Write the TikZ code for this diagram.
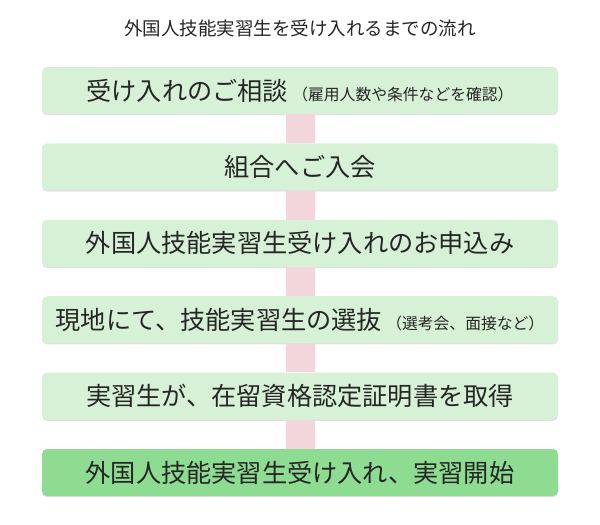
\documentclass[tikz,border=0pt]{standalone}
\usepackage{fontspec}
\newfontfamily\jpfont{Noto Sans CJK JP}
\usetikzlibrary{positioning,shadows}
\definecolor{boxgreen}{HTML}{D6F1D6}
\definecolor{lastgreen}{HTML}{8EDC92}
\definecolor{linkpink}{HTML}{F3D5DC}
\newcommand\aside[1]{{\fontsize{15.8}{18}\selectfont #1}}
\tikzset{
  stepbox/.style={fill=boxgreen, rounded corners=5pt, minimum width=516pt,
    minimum height=47pt, inner sep=0pt, text=black!85,
    font=\jpfont\fontsize{25.2}{28}\selectfont,
    drop shadow={shadow xshift=0pt, shadow yshift=-1.2pt, fill=black, opacity=0.12}},
  laststep/.style={stepbox, fill=lastgreen},
  link/.style={line width=29pt, linkpink},
  heading/.style={font=\jpfont\fontsize{18.5}{22}\selectfont, text=black!85}
}

\begin{document}
\begin{tikzpicture}[x=1pt, y=1pt, node distance=29pt]
\useasboundingbox (0,0) rectangle (600,-525);
\node[heading] (title) at (300,-28) {外国人技能実習生を受け入れるまでの流れ};
\node[stepbox] (s1) at (300,-90.5) {受け入れのご相談\,\aside{（雇用人数や条件などを確認）}};
\node[stepbox, below=of s1] (s2) {組合へご入会};
\node[stepbox, below=of s2] (s3) {外国人技能実習生受け入れのお申込み};
\node[stepbox, below=of s3] (s4) {現地にて、技能実習生の選抜\,\aside{（選考会、面接など）}};
\node[stepbox, below=of s4] (s5) {実習生が、在留資格認定証明書を取得};
\node[laststep, below=of s5] (s6) {外国人技能実習生受け入れ、実習開始};
\foreach \i [count=\j from 2] in {1,...,5}
\draw [link] (s\i.south) -- (s\j.north);
\end{tikzpicture}
\end{document}
